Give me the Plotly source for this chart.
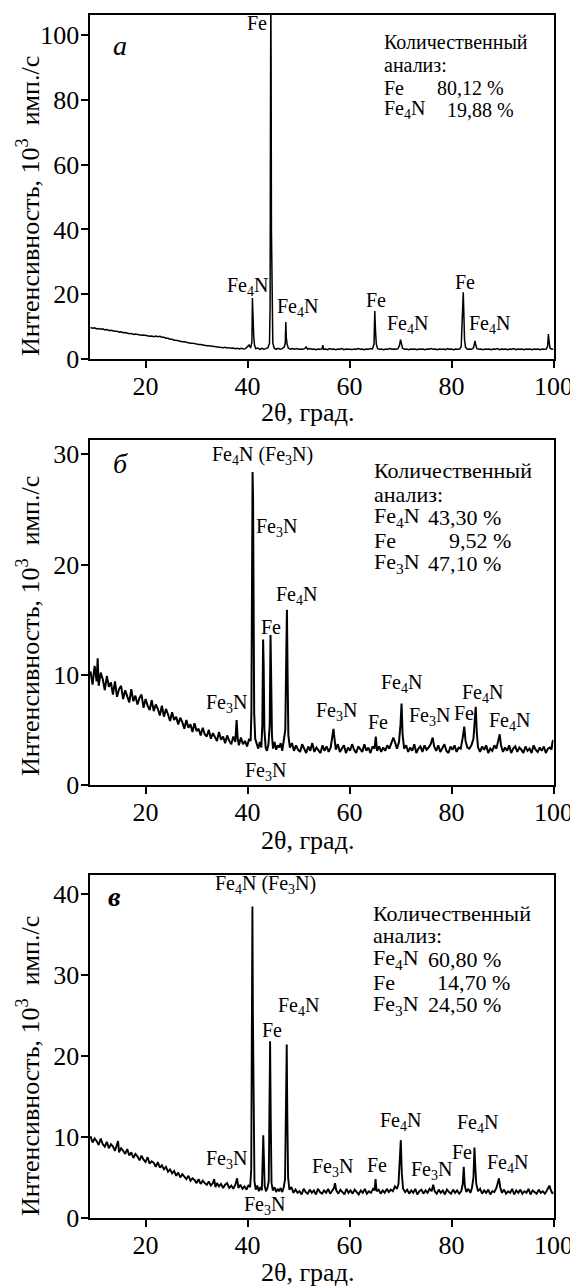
import plotly.graph_objects as go

# ---------------- data: panel a ----------------
two_theta_a = [9.2, 9.6, 10.0, 10.4, 10.8, 11.2, 11.6, 12.0, 12.4, 12.8, 13.2, 13.6, 14.0, 14.4, 14.8, 15.2, 15.6, 16.0, 16.4, 16.8,
               17.2, 17.6, 18.0, 18.4, 18.8, 19.2, 19.6, 20.0, 20.4, 20.8, 21.2, 21.6, 22.0, 22.4, 22.8, 23.2, 23.6, 24.0, 24.4, 24.8,
               25.2, 25.6, 26.0, 26.4, 26.8, 27.2, 27.6, 28.0, 28.4, 28.8, 29.2, 29.6, 30.0, 30.4, 30.8, 31.2, 31.6, 32.0, 32.4, 32.8,
               33.2, 33.6, 34.0, 34.4, 34.8, 35.2, 35.6, 36.0, 36.4, 36.8, 37.2, 37.6, 38.0, 38.4, 38.8, 39.2, 39.6, 40.0, 40.3, 40.6,
               40.85, 40.95, 41.05, 41.2, 41.35, 41.6, 42.0, 42.4, 42.8, 43.2, 43.6, 44.0, 44.3, 44.42, 44.5, 44.56, 44.62, 44.68, 44.78, 44.95,
               45.2, 45.6, 46.0, 46.4, 46.8, 47.2, 47.4, 47.5, 47.6, 47.75, 48.0, 48.4, 48.8, 49.2, 49.6, 50.0, 50.4, 50.8, 51.2, 51.5,
               51.8, 52.2, 52.6, 53.0, 53.4, 53.8, 54.2, 54.6, 54.75, 54.9, 55.3, 55.7, 56.1, 56.5, 56.9, 57.3, 57.7, 58.1, 58.5, 58.9,
               59.3, 59.7, 60.1, 60.5, 60.9, 61.3, 61.7, 62.1, 62.5, 62.9, 63.3, 63.7, 64.1, 64.5, 64.8, 64.95, 65.1, 65.25, 65.5, 65.9,
               66.3, 66.7, 67.1, 67.5, 67.9, 68.3, 68.7, 69.1, 69.5, 69.8, 70.0, 70.15, 70.4, 70.8, 71.2, 71.6, 72.0, 72.4, 72.8, 73.2,
               73.6, 74.0, 74.4, 74.8, 75.2, 75.6, 76.0, 76.4, 76.8, 77.2, 77.6, 78.0, 78.4, 78.8, 79.2, 79.6, 80.0, 80.4, 80.8, 81.2,
               81.6, 81.9, 82.1, 82.3, 82.42, 82.55, 82.75, 83.1, 83.5, 83.9, 84.3, 84.5, 84.6, 84.75, 85.0, 85.4, 85.8, 86.2, 86.6, 87.0,
               87.4, 87.8, 88.2, 88.6, 89.0, 89.4, 89.8, 90.2, 90.6, 91.0, 91.4, 91.8, 92.2, 92.6, 93.0, 93.4, 93.8, 94.2, 94.6, 95.0,
               95.4, 95.8, 96.2, 96.6, 97.0, 97.4, 97.8, 98.2, 98.6, 98.85, 99.0, 99.12, 99.3, 99.7, 100.0]
intensity_a = [9.7, 9.5, 9.6, 9.3, 9.4, 9.2, 9.3, 9.0, 9.1, 8.8, 8.9, 8.7, 8.6, 8.6, 8.3, 8.4, 8.1, 8.2, 8.0, 7.8,
               7.9, 7.6, 7.7, 7.5, 7.5, 7.3, 7.4, 7.2, 7.2, 7.0, 7.1, 6.9, 7.1, 6.9, 7.0, 6.7, 6.7, 6.4, 6.4, 6.1,
               6.1, 5.8, 5.8, 5.6, 5.6, 5.3, 5.3, 5.1, 5.1, 4.9, 4.9, 4.7, 4.7, 4.5, 4.5, 4.3, 4.3, 4.1, 4.1, 4.0,
               4.0, 3.8, 3.8, 3.7, 3.7, 3.5, 3.6, 3.4, 3.5, 3.3, 3.4, 3.2, 3.3, 3.1, 3.3, 3.1, 3.2, 3.8, 4.3, 3.4,
               5.2, 18.8, 9.8, 7.4, 4.4, 3.2, 3.4, 3.0, 3.3, 3.0, 3.2, 3.5, 4.8, 16.0, 78.0, 112.0, 91.5, 40.0, 15.0, 5.0,
               3.4, 3.0, 3.3, 3.0, 3.2, 3.7, 5.0, 11.4, 6.6, 4.6, 3.3, 3.0, 3.2, 3.0, 3.2, 3.0, 3.1, 3.0, 3.2, 3.7,
               3.0, 3.2, 3.0, 3.1, 2.9, 3.1, 3.0, 3.1, 4.3, 3.0, 3.1, 2.9, 3.2, 3.0, 3.1, 2.9, 3.1, 3.0, 3.2, 2.9,
               3.1, 3.0, 3.1, 2.9, 3.1, 3.0, 3.2, 3.0, 3.1, 2.9, 3.1, 3.0, 3.2, 3.1, 4.6, 14.8, 8.4, 4.6, 3.2, 3.0,
               3.1, 2.9, 3.1, 3.0, 3.2, 3.0, 3.1, 3.0, 3.2, 4.2, 6.0, 4.6, 3.3, 3.0, 3.1, 2.9, 3.1, 3.0, 3.1, 2.9,
               3.1, 3.0, 3.1, 2.9, 3.1, 3.0, 3.2, 3.0, 3.1, 2.9, 3.1, 3.0, 3.1, 2.9, 3.2, 3.0, 3.1, 2.9, 3.1, 3.0,
               3.1, 3.8, 14.5, 20.6, 14.0, 6.0, 3.6, 3.0, 3.1, 3.0, 3.4, 4.6, 5.6, 4.3, 3.2, 3.0, 3.1, 2.9, 3.1, 3.0,
               3.1, 2.9, 3.1, 3.0, 3.2, 2.9, 3.1, 3.0, 3.1, 2.9, 3.1, 3.0, 3.2, 2.9, 3.1, 3.0, 3.1, 2.9, 3.1, 3.0,
               3.1, 2.9, 3.1, 3.0, 3.1, 2.9, 3.1, 3.0, 3.1, 4.0, 7.7, 5.6, 3.4, 3.0, 3.1]

# ---------------- data: panel b ----------------
two_theta_b = [9.2, 9.6, 10.0, 10.4, 10.6, 10.8, 11.2, 11.6, 12.0, 12.4, 12.8, 13.2, 13.6, 14.0, 14.4, 14.8, 15.2, 15.6, 16.0, 16.4,
               16.8, 17.2, 17.6, 18.0, 18.4, 18.8, 19.2, 19.6, 20.0, 20.4, 20.8, 21.2, 21.6, 22.0, 22.4, 22.8, 23.2, 23.6, 24.0, 24.4,
               24.8, 25.2, 25.6, 26.0, 26.4, 26.8, 27.2, 27.6, 28.0, 28.4, 28.8, 29.2, 29.6, 30.0, 30.4, 30.8, 31.2, 31.6, 32.0, 32.4,
               32.8, 33.2, 33.6, 34.0, 34.4, 34.8, 35.2, 35.6, 36.0, 36.4, 36.8, 37.2, 37.6, 37.85, 38.05, 38.3, 38.7, 39.1, 39.5, 39.9,
               40.3, 40.6, 40.75, 40.88, 40.98, 41.08, 41.18, 41.3, 41.5, 41.8, 42.1, 42.4, 42.7, 42.9, 43.05, 43.15, 43.3, 43.55, 43.8, 44.1,
               44.35, 44.5, 44.62, 44.78, 45.0, 45.3, 45.6, 45.9, 46.2, 46.5, 46.8, 47.1, 47.4, 47.6, 47.72, 47.85, 48.0, 48.3, 48.7, 49.1,
               49.5, 49.9, 50.3, 50.7, 51.1, 51.5, 51.9, 52.3, 52.7, 53.1, 53.5, 53.9, 54.3, 54.7, 55.1, 55.5, 55.9, 56.3, 56.6, 56.85,
               57.05, 57.3, 57.7, 58.1, 58.5, 58.9, 59.3, 59.7, 60.1, 60.5, 60.9, 61.3, 61.7, 62.1, 62.5, 62.9, 63.3, 63.7, 64.1, 64.5,
               64.9, 65.15, 65.4, 65.8, 66.2, 66.6, 67.0, 67.4, 67.8, 68.2, 68.6, 68.9, 69.3, 69.7, 70.0, 70.2, 70.4, 70.7, 71.1, 71.5,
               71.9, 72.3, 72.7, 73.1, 73.5, 73.9, 74.3, 74.7, 75.1, 75.5, 75.9, 76.3, 76.6, 77.0, 77.4, 77.8, 78.2, 78.6, 79.0, 79.4,
               79.8, 80.2, 80.6, 81.0, 81.4, 81.8, 82.2, 82.5, 82.75, 83.1, 83.5, 83.9, 84.3, 84.55, 84.75, 84.95, 85.2, 85.6, 86.0, 86.4,
               86.8, 87.2, 87.6, 88.0, 88.4, 88.8, 89.2, 89.45, 89.7, 90.1, 90.5, 90.9, 91.3, 91.7, 92.1, 92.5, 92.9, 93.3, 93.7, 94.1,
               94.5, 94.9, 95.3, 95.7, 96.1, 96.5, 96.9, 97.3, 97.7, 98.1, 98.5, 98.9, 99.3, 99.6, 99.8, 100.0]
intensity_b = [10.3, 9.1, 10.8, 9.4, 11.5, 9.0, 10.2, 9.6, 8.6, 9.9, 8.9, 9.3, 8.2, 9.4, 8.0, 8.7, 9.0, 7.8, 8.6, 8.1,
               7.5, 8.7, 7.6, 8.1, 7.3, 7.9, 8.2, 7.0, 7.8, 7.2, 6.8, 7.7, 6.7, 7.3, 6.9, 6.3, 7.2, 6.2, 6.9, 6.4,
               5.8, 6.6, 5.9, 6.2, 5.5, 6.1, 5.7, 5.1, 5.9, 5.2, 5.5, 4.8, 5.6, 4.9, 5.1, 4.5, 5.2, 4.6, 4.4, 5.0,
               4.2, 4.7, 4.3, 4.0, 4.8, 4.1, 4.4, 3.8, 4.5, 4.0, 3.7, 4.4, 3.9, 5.9, 4.3, 3.6, 4.3, 3.7, 4.0, 3.5,
               4.2, 4.0, 6.5, 20.4, 28.4, 25.9, 14.0, 6.5, 4.2, 3.6, 3.3, 3.9, 3.4, 5.5, 13.2, 11.0, 5.0, 3.4, 3.1, 3.7,
               5.5, 13.6, 10.0, 4.5, 3.3, 3.9, 3.2, 3.6, 3.4, 3.8, 3.1, 3.9, 5.0, 12.0, 15.9, 10.0, 4.5, 3.4, 3.8, 3.1,
               3.6, 3.2, 3.0, 3.7, 3.3, 2.9, 3.5, 3.1, 3.8, 3.0, 3.4, 3.2, 2.9, 3.6, 3.1, 3.5, 3.0, 3.4, 4.2, 5.1,
               4.2, 3.2, 3.7, 3.0, 3.3, 3.6, 2.9, 3.4, 3.1, 3.7, 3.2, 2.9, 3.5, 3.3, 3.0, 3.7, 3.1, 3.4, 2.9, 3.5,
               3.3, 4.4, 3.1, 3.5, 3.0, 3.4, 3.1, 3.6, 3.3, 3.8, 4.3, 3.9, 3.3, 3.9, 5.5, 7.4, 4.6, 3.3, 3.6, 3.0,
               3.4, 3.1, 3.7, 2.9, 3.3, 3.5, 3.0, 3.6, 3.2, 3.4, 3.7, 4.3, 3.5, 3.1, 3.6, 3.0, 3.3, 3.7, 3.1, 2.9,
               3.5, 3.2, 3.6, 3.0, 3.4, 3.3, 4.3, 5.3, 4.0, 3.4, 3.3, 3.6, 4.2, 5.8, 7.1, 4.8, 3.4, 3.0, 3.5, 3.2,
               3.6, 2.9, 3.3, 3.1, 3.6, 3.3, 4.0, 4.6, 3.6, 3.0, 3.4, 3.1, 3.6, 2.9, 3.3, 3.5, 3.0, 3.4, 3.2, 2.9,
               3.5, 3.1, 3.3, 2.9, 3.6, 3.2, 3.0, 3.4, 3.1, 3.5, 2.9, 3.3, 3.4, 3.2, 3.9, 4.1]

# ---------------- data: panel c ----------------
two_theta_c = [9.2, 9.6, 10.0, 10.4, 10.8, 11.2, 11.6, 12.0, 12.4, 12.8, 13.2, 13.6, 14.0, 14.4, 14.6, 14.8, 15.2, 15.6, 16.0, 16.4,
               16.8, 17.2, 17.6, 18.0, 18.4, 18.8, 19.2, 19.6, 20.0, 20.4, 20.8, 21.2, 21.6, 22.0, 22.4, 22.8, 23.2, 23.6, 24.0, 24.4,
               24.8, 25.2, 25.6, 26.0, 26.4, 26.8, 27.2, 27.6, 28.0, 28.4, 28.8, 29.2, 29.6, 30.0, 30.4, 30.8, 31.2, 31.6, 32.0, 32.4,
               32.8, 33.2, 33.45, 33.7, 34.0, 34.4, 34.8, 35.2, 35.6, 36.0, 36.4, 36.8, 37.2, 37.6, 37.95, 38.2, 38.6, 39.0, 39.4, 39.8,
               40.2, 40.5, 40.72, 40.85, 40.95, 41.05, 41.18, 41.35, 41.6, 41.9, 42.2, 42.5, 42.8, 42.95, 43.08, 43.2, 43.35, 43.6, 43.9, 44.15,
               44.32, 44.42, 44.55, 44.7, 44.95, 45.3, 45.6, 45.9, 46.2, 46.5, 46.8, 47.1, 47.35, 47.55, 47.68, 47.8, 47.95, 48.2, 48.6, 49.0,
               49.4, 49.8, 50.2, 50.6, 51.0, 51.4, 51.8, 52.2, 52.6, 53.0, 53.4, 53.8, 54.2, 54.6, 55.0, 55.4, 55.8, 56.2, 56.6, 56.95,
               57.15, 57.4, 57.8, 58.2, 58.6, 59.0, 59.4, 59.8, 60.2, 60.6, 61.0, 61.4, 61.8, 62.2, 62.6, 63.0, 63.4, 63.8, 64.2, 64.6,
               64.9, 65.1, 65.3, 65.7, 66.1, 66.5, 66.9, 67.3, 67.7, 68.1, 68.5, 68.9, 69.3, 69.6, 69.85, 70.05, 70.25, 70.5, 70.9, 71.3,
               71.7, 72.1, 72.5, 72.9, 73.3, 73.7, 74.1, 74.5, 74.9, 75.3, 75.7, 76.1, 76.4, 76.7, 77.1, 77.5, 77.9, 78.3, 78.7, 79.1,
               79.5, 79.9, 80.3, 80.7, 81.1, 81.5, 81.9, 82.2, 82.4, 82.6, 82.9, 83.3, 83.7, 84.0, 84.3, 84.5, 84.65, 84.85, 85.2, 85.6,
               86.0, 86.4, 86.8, 87.2, 87.6, 88.0, 88.4, 88.8, 89.1, 89.3, 89.55, 89.9, 90.3, 90.7, 91.1, 91.5, 91.9, 92.3, 92.7, 93.1,
               93.5, 93.9, 94.3, 94.7, 95.1, 95.5, 95.9, 96.3, 96.7, 97.1, 97.5, 97.9, 98.3, 98.7, 99.0, 99.2, 99.5, 99.8, 100.0]
intensity_c = [10.1, 9.3, 9.8, 9.5, 9.0, 9.8, 9.1, 8.8, 9.4, 8.6, 9.1, 8.8, 8.3, 9.0, 9.5, 8.1, 8.6, 8.3, 7.9, 8.5,
               7.7, 8.1, 7.4, 7.9, 7.6, 7.1, 7.7, 7.2, 6.9, 7.5, 6.7, 7.0, 6.8, 6.3, 6.9, 6.2, 6.5, 6.0, 6.3, 5.7,
               6.0, 5.5, 5.8, 5.2, 5.6, 5.0, 5.4, 5.1, 4.8, 5.2, 4.6, 4.9, 4.7, 4.3, 4.8, 4.2, 4.6, 4.3, 4.1, 4.5,
               4.0, 4.3, 4.8, 3.8, 4.3, 3.9, 4.2, 3.7, 4.1, 4.3, 3.7, 4.0, 3.6, 4.1, 4.9, 3.7, 4.1, 3.6, 3.9, 3.5,
               4.1, 3.8, 6.0, 24.9, 38.4, 25.0, 10.0, 4.5, 3.5, 4.0, 3.3, 3.8, 3.4, 6.0, 10.2, 7.5, 4.0, 3.3, 3.7, 4.5,
               12.0, 21.8, 12.0, 4.3, 3.4, 3.8, 3.2, 3.6, 3.3, 3.7, 3.2, 3.8, 4.8, 12.0, 21.4, 12.5, 5.0, 3.5, 3.8, 3.1,
               3.5, 3.1, 3.3, 2.9, 3.6, 3.2, 3.0, 3.5, 3.1, 3.4, 2.9, 3.6, 3.2, 3.0, 3.4, 3.1, 3.6, 3.0, 3.3, 3.7,
               4.3, 3.4, 3.0, 3.5, 3.2, 2.9, 3.6, 3.1, 3.4, 3.0, 3.5, 3.2, 2.9, 3.4, 3.1, 3.6, 3.0, 3.3, 3.1, 3.6,
               3.4, 4.8, 3.3, 3.5, 3.0, 3.4, 3.1, 3.6, 3.2, 3.5, 3.3, 3.9, 3.6, 4.2, 6.5, 9.6, 5.5, 3.6, 3.2, 3.5,
               3.0, 3.4, 3.1, 3.6, 2.9, 3.3, 3.5, 3.0, 3.4, 3.1, 3.6, 3.3, 4.1, 3.3, 3.0, 3.5, 3.1, 3.4, 2.9, 3.5,
               3.2, 3.0, 3.5, 3.1, 3.4, 3.0, 3.3, 4.2, 6.3, 4.0, 3.2, 3.6, 3.1, 3.7, 5.0, 8.7, 6.5, 4.2, 3.3, 3.6,
               3.0, 3.4, 3.1, 3.5, 2.9, 3.3, 3.2, 3.7, 4.4, 4.9, 3.8, 3.1, 3.5, 3.0, 3.3, 3.1, 3.6, 2.9, 3.4, 3.1,
               3.5, 3.0, 3.3, 3.1, 3.6, 2.9, 3.4, 3.2, 3.0, 3.5, 3.1, 3.3, 3.0, 3.4, 3.7, 4.0, 3.4, 3.0, 3.2]

assert len(two_theta_a) == len(intensity_a)
assert len(two_theta_b) == len(intensity_b)
assert len(two_theta_c) == len(intensity_c)

# ---------------- axes ----------------
x_ticks = [20, 40, 60, 80, 100]
y_ticks_a = [0, 20, 40, 60, 80, 100]
y_ticks_b = [0, 10, 20, 30]
y_ticks_c = [0, 10, 20, 30, 40]
y_max = [106.2, 31.3, 42.3]

# ---------------- peak labels ----------------
F4 = "Fe<sub>4</sub>N"
F3 = "Fe<sub>3</sub>N"
peak_text_a = ["Fe", F4, F4, "Fe", F4, "Fe", F4]
peak_x_a = [41.85, 40.0, 49.8, 65.2, 71.3, 82.7, 87.5]
peak_y_a = [103.7, 22.5, 16.0, 18.2, 10.8, 23.9, 10.8]

peak_text_b = [F4 + " (" + F3 + ")", F3, "Fe", F4, F3, F3, F3, "Fe", F4, F3, "Fe", F4, F4]
peak_x_b = [43.0, 45.6, 44.6, 49.5, 35.9, 43.5, 57.5, 65.6, 70.2, 75.6, 82.4, 86.0, 91.4]
peak_y_b = [29.9, 23.4, 14.35, 17.2, 7.4, 1.2, 6.65, 5.7, 9.25, 6.2, 6.5, 8.3, 5.8]

peak_text_c = [F4 + " (" + F3 + ")", "Fe", F4, F3, F3, F3, "Fe", F4, F3, "Fe", F4, F4]
peak_x_c = [43.6, 44.7, 49.9, 35.9, 43.3, 56.75, 65.3, 70.0, 76.1, 82.05, 85.0, 90.9]
peak_y_c = [41.1, 23.2, 26.1, 7.2, 1.6, 6.2, 6.5, 11.9, 5.9, 8.2, 11.7, 6.75]

# ---------------- quantitative analysis ----------------
quant_head = ["Количественный", "анализ:"]
quant_names_a = ["Fe", F4]
quant_values_a = ["80,12 %", "19,88 %"]
quant_names_b = [F4, "Fe", F3]
quant_values_b = ["43,30 %", "9,52 %", "47,10 %"]
quant_names_c = [F4, "Fe", F3]
quant_values_c = ["60,80 %", "14,70 %", "24,50 %"]

panel_letters = ["<i>а</i>", "<i>б</i>", "<b><i>в</i></b>"]

FONT = "Liberation Serif"
W, H = 570, 1286
X_L, X_R = 89.5, 553.5
panels_px = [(15, 359), (440, 785), (875, 1218)]


def tf(size):
    return dict(family=FONT, size=size, color="black")


fig = go.Figure()
series = [(two_theta_a, intensity_a), (two_theta_b, intensity_b), (two_theta_c, intensity_c)]
widths = [1.5, 2.0, 1.9]
for i, (xs, ys) in enumerate(series):
    suf = "" if i == 0 else str(i + 1)
    fig.add_trace(go.Scatter(x=xs, y=ys, mode="lines",
                             line=dict(color="black", width=widths[i]),
                             xaxis="x" + suf, yaxis="y" + suf,
                             showlegend=False, hoverinfo="skip"))

ytick_sets = [y_ticks_a, y_ticks_b, y_ticks_c]
for i, (top, bot) in enumerate(panels_px):
    suf = "" if i == 0 else str(i + 1)
    common = dict(showline=True, linecolor="black", linewidth=2, mirror=True,
                  ticks="outside", ticklen=7, tickwidth=1.6, tickcolor="black",
                  showgrid=False, zeroline=False, tickfont=tf(26), ticklabelstandoff=-4,
                  ticklabeloverflow="allow", automargin=False)
    fig.update_layout({
        "xaxis" + suf: dict(domain=[X_L / W, X_R / W], range=[9, 100], tickvals=x_ticks,
                            anchor="y" + suf, **common),
        "yaxis" + suf: dict(domain=[1 - bot / H, 1 - top / H], range=[0, y_max[i]],
                            tickvals=ytick_sets[i], anchor="x" + suf, **common),
    })

ann = []


def add(text, x, y, ref, size, xanchor="center", yanchor="middle"):
    ann.append(dict(text=text, x=x, y=y, xref="x" + ref, yref="y" + ref, showarrow=False,
                    xanchor=xanchor, yanchor=yanchor, font=tf(size)))


peaks = [(peak_text_a, peak_x_a, peak_y_a), (peak_text_b, peak_x_b, peak_y_b), (peak_text_c, peak_x_c, peak_y_c)]
for i, (t, xs, ys) in enumerate(peaks):
    ref = "" if i == 0 else str(i + 1)
    for tt, xx, yy in zip(t, xs, ys):
        add(tt, xx, yy, ref, 20)

letter_pos = [(15.0, 96.9), (15.0, 29.2), (14.0, 39.6)]
for i, (lx, ly) in enumerate(letter_pos):
    ref = "" if i == 0 else str(i + 1)
    add(panel_letters[i], lx, ly, ref, 28)

quant = [
    (quant_names_a, quant_values_a, 66.3, [76.7, 78.7], [97.8, 90.7, 83.6, 76.9], 20),
    (quant_names_b, quant_values_b, 64.5, [74.9, 79.2, 74.9], [28.5, 26.4, 24.3, 22.2, 20.1], 22),
    (quant_names_c, quant_values_c, 64.2, [74.9, 76.7, 74.9], [37.6, 34.8, 31.9, 29.1, 26.3], 22),
]
for i, (names, vals, x0, xv, ys, fs) in enumerate(quant):
    ref = "" if i == 0 else str(i + 1)
    add(quant_head[0], x0, ys[0], ref, fs, xanchor="left")
    add(quant_head[1], x0, ys[1], ref, fs, xanchor="left")
    for k, (nm, vv) in enumerate(zip(names, vals)):
        add(nm, x0, ys[2 + k], ref, fs, xanchor="left")
        add(vv, xv[k], ys[2 + k], ref, fs, xanchor="left")

ytitle = "Интенсивность, 10<sup>3</sup>\u00a0\u00a0имп./с"
ytitle_y = [206, 626, 1066]
xtitle_y = [413, 840, 1272]
for i in range(3):
    ann.append(dict(text=ytitle, x=28 / W, y=1 - ytitle_y[i] / H, xref="paper", yref="paper",
                    textangle=-90, showarrow=False, xanchor="center", yanchor="middle", font=tf(26)))
    ann.append(dict(text="2θ, град.", x=307 / W, y=1 - xtitle_y[i] / H, xref="paper", yref="paper",
                    showarrow=False, xanchor="center", yanchor="middle", font=tf(26)))

fig.update_layout(width=W, height=H, margin=dict(l=0, r=0, t=0, b=0, autoexpand=False),
                  paper_bgcolor="white", plot_bgcolor="white", showlegend=False,
                  font=tf(25), annotations=ann)
fig.write_html("out.html")
